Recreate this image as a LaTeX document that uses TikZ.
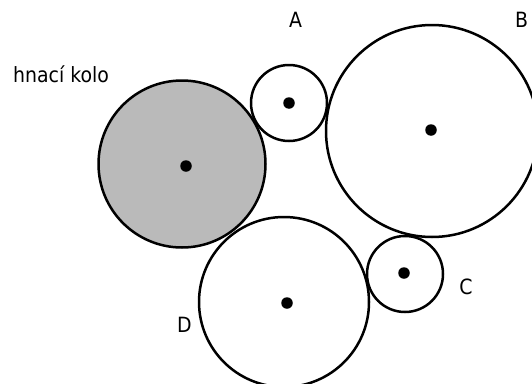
\documentclass[tikz,border=0pt]{standalone}
\usepackage{fontspec}
\setmainfont{DejaVu Sans Condensed}
\usetikzlibrary{positioning}

\begin{document}
\begin{tikzpicture}[
  x=1pt,y=-1pt,
  wheel/.style={draw,circle,line width=2.5pt,inner sep=0pt,fill=white},
  drive/.style={wheel,fill=black!27},
  hub/.style={circle,fill=black,inner sep=0pt,minimum size=11.5pt},
  lbl/.style={font=\fontsize{21}{23}\selectfont,inner sep=0pt,anchor=base}
]
\useasboundingbox (0,0) rectangle (532,383);
\clip (0,0) rectangle (532,383);
% wheels
\node[drive,minimum size=167pt] (hnaci) at (182,164) {};
\node[wheel,minimum size=76pt] (A) at (289,103) {};
\node[wheel,minimum size=212pt] (B) at (432,131) {};
\node[wheel,minimum size=76pt] (C) at (405,274) {};
\node[wheel,minimum size=170pt] (D) at (284,302) {};
% hubs
\node[hub] (hubhnaci) at (186,166) {};
\node[hub] (hubA) at (289,103) {};
\node[hub] (hubB) at (431,130) {};
\node[hub] (hubC) at (404,273) {};
\node[hub] (hubD) at (287,303) {};
% labels
\node[lbl,anchor=base west] (lblhnaci) at (13,82) {hnací kolo};
\node[lbl] (lblA) at (295.5,27) {A};
\node[lbl] (lblB) at (521.5,27) {B};
\node[lbl] (lblC) at (466,294) {C};
\node[lbl] (lblD) at (184.5,332) {D};
\end{tikzpicture}
\end{document}
